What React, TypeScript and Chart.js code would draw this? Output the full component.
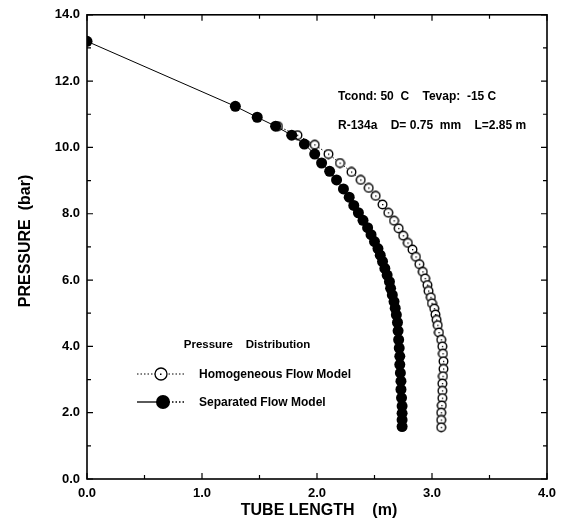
import React, { useEffect, useRef } from "react";
import { Chart, registerables } from "chart.js";

Chart.register(...registerables);

// Separated flow model (filled circles)
const sepLength = [0.0, 1.29, 1.48, 1.64, 1.78, 1.89, 1.98, 2.04, 2.11, 2.17, 2.23, 2.28, 2.32, 2.36, 2.4, 2.44, 2.47, 2.5, 2.53, 2.55, 2.57, 2.59, 2.61, 2.63, 2.64, 2.655, 2.67, 2.68, 2.69, 2.7, 2.705, 2.71, 2.715, 2.72, 2.72, 2.725, 2.73, 2.73, 2.735, 2.74, 2.74, 2.74, 2.74];
const sepPressure = [13.2, 11.24, 10.91, 10.64, 10.37, 10.1, 9.8, 9.53, 9.28, 9.02, 8.75, 8.5, 8.25, 8.03, 7.8, 7.58, 7.37, 7.16, 6.95, 6.75, 6.56, 6.35, 6.15, 5.95, 5.75, 5.55, 5.35, 5.15, 4.95, 4.72, 4.47, 4.2, 3.95, 3.7, 3.45, 3.2, 2.95, 2.7, 2.45, 2.2, 1.98, 1.78, 1.58];

// Homogeneous flow model (open circles)
const homLength = [1.66, 1.83, 1.98, 2.1, 2.2, 2.3, 2.38, 2.45, 2.51, 2.57, 2.62, 2.67, 2.71, 2.75, 2.79, 2.83, 2.86, 2.89, 2.92, 2.94, 2.96, 2.97, 2.99, 3.0, 3.02, 3.03, 3.04, 3.05, 3.06, 3.08, 3.09, 3.095, 3.1, 3.1, 3.095, 3.09, 3.09, 3.09, 3.085, 3.08, 3.08, 3.08];
const homPressure = [10.64, 10.37, 10.08, 9.8, 9.53, 9.26, 9.02, 8.78, 8.54, 8.28, 8.03, 7.79, 7.56, 7.34, 7.12, 6.92, 6.7, 6.48, 6.25, 6.05, 5.85, 5.67, 5.48, 5.3, 5.14, 4.96, 4.8, 4.64, 4.42, 4.2, 4.0, 3.78, 3.55, 3.32, 3.1, 2.88, 2.66, 2.44, 2.22, 2.0, 1.78, 1.56];

const xTitle = "TUBE LENGTH    (m)";
const yTitle = "PRESSURE  (bar)";
const conditionText = "Tcond: 50  C    Tevap:  -15 C";
const geometryText = "R-134a    D= 0.75  mm    L=2.85 m";
const legendTitle = "Pressure    Distribution";
const seriesNames = ["Homogeneous Flow Model", "Separated Flow Model"];

const FONT = '"Liberation Sans", Arial, sans-serif';

function makeOpenMarker(): HTMLCanvasElement {
  const c = document.createElement("canvas");
  c.width = 11;
  c.height = 11;
  const g = c.getContext("2d")!;
  g.beginPath();
  g.arc(5.5, 5.5, 4.3, 0, Math.PI * 2);
  g.fillStyle = "#fff";
  g.fill();
  g.lineWidth = 1.4;
  g.strokeStyle = "#000";
  g.stroke();
  g.fillStyle = "#000";
  g.fillRect(5, 5, 1.3, 1.3);
  return c;
}

const decorPlugin = {
  id: "decor",
  afterDraw(chart: any) {
    const { ctx, chartArea: a, scales } = chart;
    const xs = scales.x;
    const ys = scales.y;
    ctx.save();
    // frame
    ctx.strokeStyle = "#000";
    ctx.lineWidth = 1.6;
    ctx.strokeRect(a.left, a.top, a.right - a.left, a.bottom - a.top);
    // inward ticks
    ctx.lineWidth = 1.2;
    ctx.beginPath();
    for (let v = 0; v <= 4.0001; v += 0.5) {
      const px = xs.getPixelForValue(v);
      const len = Math.abs(v - Math.round(v)) < 1e-6 ? 6 : 4;
      ctx.moveTo(px, a.bottom);
      ctx.lineTo(px, a.bottom - len);
      ctx.moveTo(px, a.top);
      ctx.lineTo(px, a.top + len);
    }
    for (let v = 0; v <= 14.0001; v += 1) {
      const py = ys.getPixelForValue(v);
      const len = v % 2 === 0 ? 6 : 4;
      ctx.moveTo(a.left, py);
      ctx.lineTo(a.left + len, py);
      ctx.moveTo(a.right, py);
      ctx.lineTo(a.right - len, py);
    }
    ctx.stroke();

    // axis titles
    ctx.fillStyle = "#000";
    ctx.textAlign = "center";
    ctx.textBaseline = "middle";
    ctx.font = `bold 16px ${FONT}`;
    ctx.fillText(xTitle, (a.left + a.right) / 2 + 2, 511);
    ctx.save();
    ctx.translate(26, 241);
    ctx.rotate(-Math.PI / 2);
    ctx.fillText(yTitle, 0, 0);
    ctx.restore();

    // annotations
    ctx.textAlign = "left";
    ctx.font = `bold 12px ${FONT}`;
    ctx.fillText(conditionText, 338, 97);
    ctx.fillText(geometryText, 338, 126);

    // legend
    ctx.textAlign = "center";
    ctx.font = `bold 11.5px ${FONT}`;
    ctx.fillText(legendTitle, 247, 345);
    ctx.textAlign = "left";
    ctx.font = `bold 12px ${FONT}`;
    ctx.fillText(seriesNames[0], 199, 375);
    ctx.fillText(seriesNames[1], 199, 403);

    // legend line 1: dotted with open circle
    ctx.lineWidth = 1;
    ctx.setLineDash([1.5, 2]);
    ctx.beginPath();
    ctx.moveTo(137, 374);
    ctx.lineTo(186, 374);
    ctx.stroke();
    ctx.setLineDash([]);
    ctx.beginPath();
    ctx.arc(161, 374, 6, 0, Math.PI * 2);
    ctx.fillStyle = "#fff";
    ctx.fill();
    ctx.lineWidth = 1.3;
    ctx.stroke();
    ctx.fillStyle = "#000";
    ctx.fillRect(160, 373.5, 1.5, 1.5);

    // legend line 2: solid + filled circle
    ctx.lineWidth = 1.3;
    ctx.beginPath();
    ctx.moveTo(137, 402);
    ctx.lineTo(165, 402);
    ctx.stroke();
    ctx.setLineDash([1.5, 2]);
    ctx.beginPath();
    ctx.moveTo(165, 402);
    ctx.lineTo(186, 402);
    ctx.stroke();
    ctx.setLineDash([]);
    ctx.beginPath();
    ctx.arc(163, 402, 7, 0, Math.PI * 2);
    ctx.fill();
    ctx.restore();
  },
};

export default function App() {
  const ref = useRef<HTMLCanvasElement | null>(null);
  useEffect(() => {
    if (!ref.current) return;
    const openMarker = makeOpenMarker();
    const chart = new Chart(ref.current, {
      type: "scatter",
      data: {
        datasets: [
          {
            label: seriesNames[0],
            data: homLength.map((x, i) => ({ x, y: homPressure[i] })),
            showLine: true,
            borderColor: "#000",
            borderWidth: 1,
            borderDash: [1.5, 2],
            pointStyle: openMarker as any,
            pointRadius: 4.5,
            order: 2,
          },
          {
            label: seriesNames[1],
            data: sepLength.map((x, i) => ({ x, y: sepPressure[i] })),
            showLine: true,
            borderColor: "#000",
            borderWidth: 1,
            backgroundColor: "#000",
            pointStyle: "circle",
            pointRadius: 5.5,
            pointBorderWidth: 0,
            order: 1,
          },
        ],
      },
      options: {
        responsive: false,
        animation: false,
        layout: { padding: { top: 12, right: 18, left: 0, bottom: 0 } },
        plugins: { legend: { display: false }, tooltip: { enabled: false } },
        scales: {
          x: {
            type: "linear",
            min: 0,
            max: 4,
            border: { display: false },
            grid: { display: false, drawTicks: false },
            ticks: {
              stepSize: 1,
              padding: 7,
              color: "#000",
              font: { family: FONT, size: 13, weight: "bold" },
              callback: (v: any) => Number(v).toFixed(1),
            },
            afterFit: (s: any) => {
              s.height = 46;
            },
          },
          y: {
            type: "linear",
            min: 0,
            max: 14,
            border: { display: false },
            grid: { display: false, drawTicks: false },
            ticks: {
              stepSize: 2,
              padding: 7,
              color: "#000",
              font: { family: FONT, size: 13, weight: "bold" },
              callback: (v: any) => Number(v).toFixed(1),
            },
            afterFit: (s: any) => {
              s.width = 87;
            },
          },
        },
      },
      plugins: [decorPlugin],
    });
    return () => chart.destroy();
  }, []);
  return (
    <div style={{ position: "fixed", left: 0, top: 0, width: 565, height: 525, background: "#fff" }}>
      <canvas ref={ref} width={565} height={525} style={{ width: 565, height: 525, display: "block" }} />
    </div>
  );
}
